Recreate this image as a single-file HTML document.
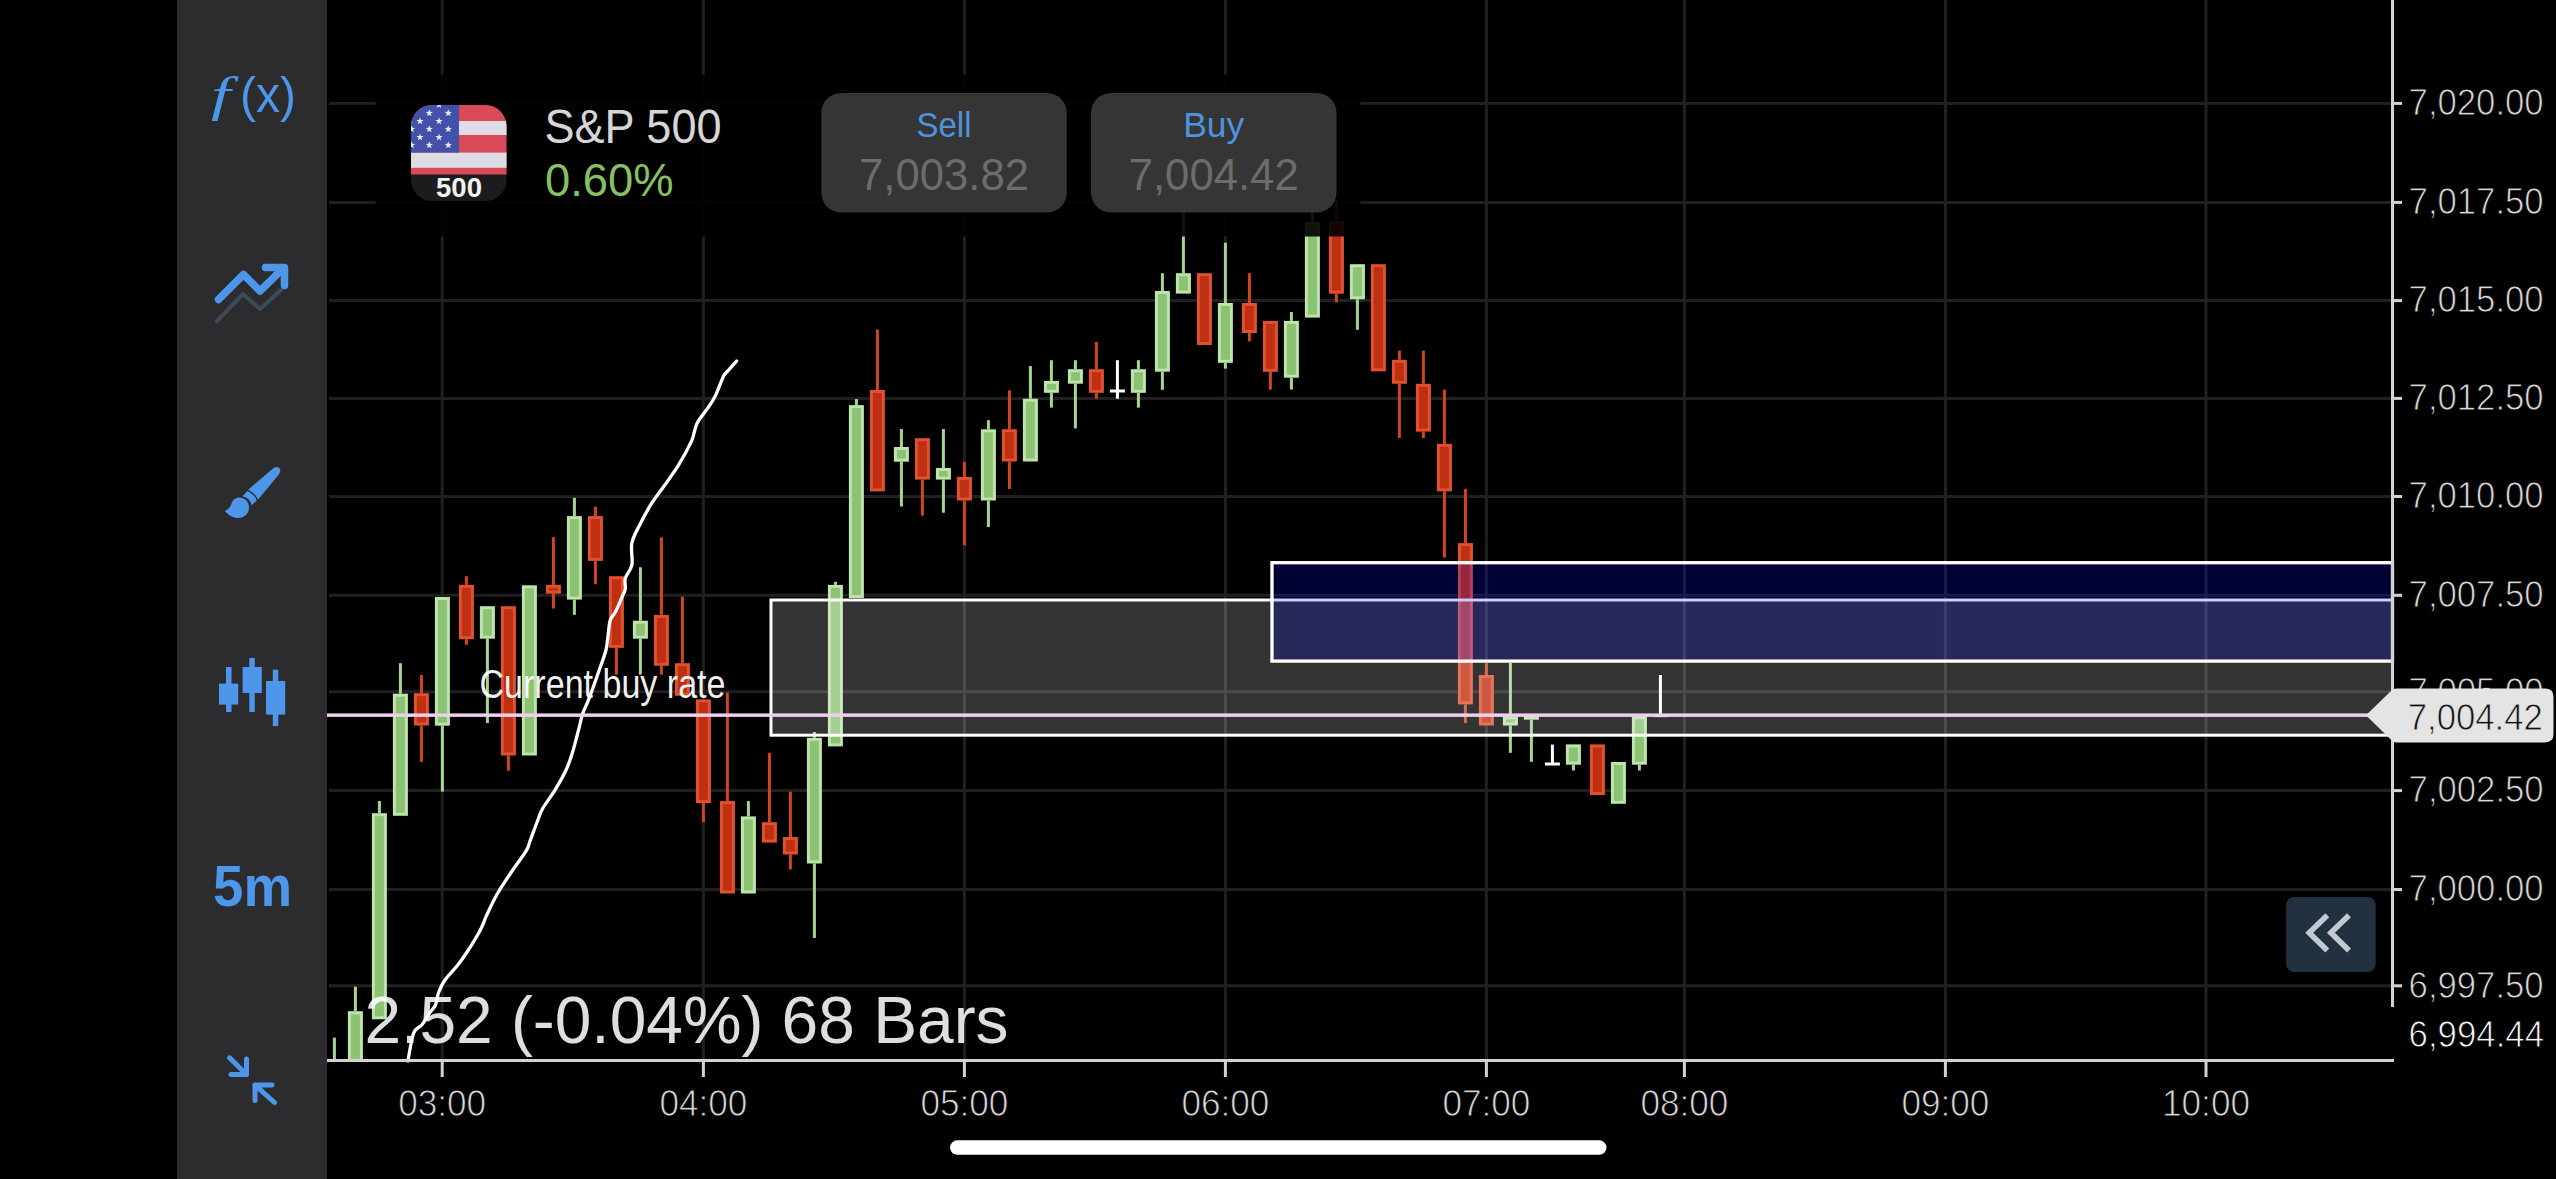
<!DOCTYPE html>
<html lang="en"><head><meta charset="utf-8"><title>S&amp;P 500 chart</title>
<style>
html,body{margin:0;padding:0;background:#000;}
body{width:2556px;height:1179px;overflow:hidden;position:relative;}
svg{position:absolute;left:0;top:0;display:block;}
text{font-family:"Liberation Sans",Arial,sans-serif;}
</style></head><body>
<svg width="2556" height="1179" viewBox="0 0 2556 1179">
<rect x="0" y="0" width="2556" height="1179" fill="#000"/>
<rect x="177" y="0" width="150" height="1179" fill="#2c2c2e"/>
<g stroke="#202020" stroke-width="3" fill="none">
<line x1="329" y1="103.4" x2="2391" y2="103.4"/>
<line x1="329" y1="202.4" x2="2391" y2="202.4"/>
<line x1="329" y1="300.6" x2="2391" y2="300.6"/>
<line x1="329" y1="398.4" x2="2391" y2="398.4"/>
<line x1="329" y1="496.5" x2="2391" y2="496.5"/>
<line x1="329" y1="595.3" x2="2391" y2="595.3"/>
<line x1="329" y1="691.8" x2="2391" y2="691.8"/>
<line x1="329" y1="790.6" x2="2391" y2="790.6"/>
<line x1="329" y1="889.5" x2="2391" y2="889.5"/>
<line x1="329" y1="985.8" x2="2391" y2="985.8"/>
<line x1="442.2" y1="0" x2="442.2" y2="1059"/>
<line x1="703.4" y1="0" x2="703.4" y2="1059"/>
<line x1="964.4" y1="0" x2="964.4" y2="1059"/>
<line x1="1225.4" y1="0" x2="1225.4" y2="1059"/>
<line x1="1486.4" y1="0" x2="1486.4" y2="1059"/>
<line x1="1684.4" y1="0" x2="1684.4" y2="1059"/>
<line x1="1945.4" y1="0" x2="1945.4" y2="1059"/>
<line x1="2206" y1="0" x2="2206" y2="1059"/>
</g>
<defs><clipPath id="ca"><rect x="327" y="0" width="2064" height="1059"/></clipPath></defs>
<g clip-path="url(#ca)">
<rect x="332.9" y="1037.6" width="3" height="24.4" fill="#a6d494"/>
<rect x="326.9" y="1062" width="15" height="1" fill="#bee4ab"/>
<rect x="353.9" y="986.7" width="3" height="24.5" fill="#a6d494"/>
<rect x="347.9" y="1011.2" width="15" height="50.8" fill="#bee4ab"/>
<rect x="350.9" y="1014.2" width="9" height="44.8" fill="#8cc274"/>
<rect x="377.9" y="801" width="3" height="12.2" fill="#a6d494"/>
<rect x="371.9" y="813.2" width="15" height="206.1" fill="#bee4ab"/>
<rect x="374.9" y="816.2" width="9" height="200.1" fill="#8cc274"/>
<rect x="398.9" y="663.2" width="3" height="30.5" fill="#a6d494"/>
<rect x="392.9" y="693.7" width="15" height="122.1" fill="#bee4ab"/>
<rect x="395.9" y="696.7" width="9" height="116.1" fill="#8cc274"/>
<rect x="419.9" y="675" width="3" height="18.2" fill="#d0451f"/>
<rect x="419.9" y="725.5" width="3" height="36.4" fill="#d0451f"/>
<rect x="413.9" y="693.2" width="15" height="32.3" fill="#e05032"/>
<rect x="416.9" y="696.2" width="9" height="26.3" fill="#bf3010"/>
<rect x="440.9" y="725.7" width="3" height="65.9" fill="#a6d494"/>
<rect x="434.9" y="597" width="15" height="128.7" fill="#bee4ab"/>
<rect x="437.9" y="600" width="9" height="122.7" fill="#8cc274"/>
<rect x="464.9" y="576.2" width="3" height="8.6" fill="#d0451f"/>
<rect x="464.9" y="639.2" width="3" height="5.6" fill="#d0451f"/>
<rect x="458.9" y="584.8" width="15" height="54.4" fill="#e05032"/>
<rect x="461.9" y="587.8" width="9" height="48.4" fill="#bf3010"/>
<rect x="485.9" y="638.7" width="3" height="84.3" fill="#a6d494"/>
<rect x="479.9" y="606.2" width="15" height="32.5" fill="#bee4ab"/>
<rect x="482.9" y="609.2" width="9" height="26.5" fill="#8cc274"/>
<rect x="506.9" y="755.5" width="3" height="15.3" fill="#d0451f"/>
<rect x="500.9" y="606.2" width="15" height="149.3" fill="#e05032"/>
<rect x="503.9" y="609.2" width="9" height="143.3" fill="#bf3010"/>
<rect x="521.9" y="585.3" width="15" height="170.2" fill="#bee4ab"/>
<rect x="524.9" y="588.3" width="9" height="164.2" fill="#8cc274"/>
<rect x="551.9" y="537.2" width="3" height="47.6" fill="#d0451f"/>
<rect x="551.9" y="593.7" width="3" height="14.8" fill="#d0451f"/>
<rect x="545.9" y="584.8" width="15" height="8.9" fill="#e05032"/>
<rect x="548.9" y="587.8" width="9" height="2.9" fill="#bf3010"/>
<rect x="572.9" y="497.8" width="3" height="18.3" fill="#a6d494"/>
<rect x="572.9" y="599.6" width="3" height="15.2" fill="#a6d494"/>
<rect x="566.9" y="516.1" width="15" height="83.5" fill="#bee4ab"/>
<rect x="569.9" y="519.1" width="9" height="77.5" fill="#8cc274"/>
<rect x="593.9" y="506.7" width="3" height="9.4" fill="#d0451f"/>
<rect x="593.9" y="560.9" width="3" height="23.4" fill="#d0451f"/>
<rect x="587.9" y="516.1" width="15" height="44.8" fill="#e05032"/>
<rect x="590.9" y="519.1" width="9" height="38.8" fill="#bf3010"/>
<rect x="614.9" y="647.9" width="3" height="26.7" fill="#d0451f"/>
<rect x="608.9" y="576.2" width="15" height="71.7" fill="#e05032"/>
<rect x="611.9" y="579.2" width="9" height="65.7" fill="#bf3010"/>
<rect x="638.9" y="567.3" width="3" height="53.4" fill="#a6d494"/>
<rect x="638.9" y="638.7" width="3" height="35.9" fill="#a6d494"/>
<rect x="632.9" y="620.7" width="15" height="18" fill="#bee4ab"/>
<rect x="635.9" y="623.7" width="9" height="12" fill="#8cc274"/>
<rect x="659.9" y="537.3" width="3" height="77.6" fill="#d0451f"/>
<rect x="659.9" y="665.8" width="3" height="8.9" fill="#d0451f"/>
<rect x="653.9" y="614.9" width="15" height="50.9" fill="#e05032"/>
<rect x="656.9" y="617.9" width="9" height="44.9" fill="#bf3010"/>
<rect x="680.9" y="596.6" width="3" height="66.6" fill="#d0451f"/>
<rect x="674.9" y="663.2" width="15" height="32.6" fill="#e05032"/>
<rect x="677.9" y="666.2" width="9" height="26.6" fill="#bf3010"/>
<rect x="701.9" y="803.2" width="3" height="19" fill="#d0451f"/>
<rect x="695.9" y="699.4" width="15" height="103.8" fill="#e05032"/>
<rect x="698.9" y="702.4" width="9" height="97.8" fill="#bf3010"/>
<rect x="725.9" y="692.5" width="3" height="108.6" fill="#d0451f"/>
<rect x="719.9" y="801.1" width="15" height="92.4" fill="#e05032"/>
<rect x="722.9" y="804.1" width="9" height="86.4" fill="#bf3010"/>
<rect x="746.9" y="801.1" width="3" height="15.3" fill="#a6d494"/>
<rect x="740.9" y="816.4" width="15" height="77.1" fill="#bee4ab"/>
<rect x="743.9" y="819.4" width="9" height="71.1" fill="#8cc274"/>
<rect x="767.9" y="752.8" width="3" height="69.4" fill="#d0451f"/>
<rect x="761.9" y="822.2" width="15" height="20.4" fill="#e05032"/>
<rect x="764.9" y="825.2" width="9" height="14.4" fill="#bf3010"/>
<rect x="788.9" y="791.7" width="3" height="45.3" fill="#d0451f"/>
<rect x="788.9" y="854.5" width="3" height="14.8" fill="#d0451f"/>
<rect x="782.9" y="837" width="15" height="17.5" fill="#e05032"/>
<rect x="785.9" y="840" width="9" height="11.5" fill="#bf3010"/>
<rect x="812.9" y="732" width="3" height="5.8" fill="#a6d494"/>
<rect x="812.9" y="863.5" width="3" height="74.5" fill="#a6d494"/>
<rect x="806.9" y="737.8" width="15" height="125.7" fill="#bee4ab"/>
<rect x="809.9" y="740.8" width="9" height="119.7" fill="#8cc274"/>
<rect x="833.9" y="581.8" width="3" height="3.1" fill="#a6d494"/>
<rect x="827.9" y="584.9" width="15" height="161.5" fill="#bee4ab"/>
<rect x="830.9" y="587.9" width="9" height="155.5" fill="#8cc274"/>
<rect x="854.9" y="399" width="3" height="6.1" fill="#a6d494"/>
<rect x="848.9" y="405.1" width="15" height="192.9" fill="#bee4ab"/>
<rect x="851.9" y="408.1" width="9" height="186.9" fill="#8cc274"/>
<rect x="875.9" y="329.5" width="3" height="60.5" fill="#d0451f"/>
<rect x="869.9" y="390" width="15" height="101.4" fill="#e05032"/>
<rect x="872.9" y="393" width="9" height="95.4" fill="#bf3010"/>
<rect x="899.9" y="429.1" width="3" height="17.9" fill="#a6d494"/>
<rect x="899.9" y="461.7" width="3" height="44.8" fill="#a6d494"/>
<rect x="893.9" y="447" width="15" height="14.7" fill="#bee4ab"/>
<rect x="896.9" y="450" width="9" height="8.7" fill="#8cc274"/>
<rect x="920.9" y="479.6" width="3" height="36" fill="#d0451f"/>
<rect x="914.9" y="438.2" width="15" height="41.4" fill="#e05032"/>
<rect x="917.9" y="441.2" width="9" height="35.4" fill="#bf3010"/>
<rect x="941.9" y="429.1" width="3" height="38.9" fill="#a6d494"/>
<rect x="941.9" y="479.6" width="3" height="33.1" fill="#a6d494"/>
<rect x="935.9" y="468" width="15" height="11.6" fill="#bee4ab"/>
<rect x="938.9" y="471" width="9" height="5.6" fill="#8cc274"/>
<rect x="962.9" y="462" width="3" height="14.9" fill="#d0451f"/>
<rect x="962.9" y="500.5" width="3" height="44.7" fill="#d0451f"/>
<rect x="956.9" y="476.9" width="15" height="23.6" fill="#e05032"/>
<rect x="959.9" y="479.9" width="9" height="17.6" fill="#bf3010"/>
<rect x="986.9" y="420.2" width="3" height="9.1" fill="#a6d494"/>
<rect x="986.9" y="500.5" width="3" height="26.5" fill="#a6d494"/>
<rect x="980.9" y="429.3" width="15" height="71.2" fill="#bee4ab"/>
<rect x="983.9" y="432.3" width="9" height="65.2" fill="#8cc274"/>
<rect x="1007.9" y="390.3" width="3" height="38.9" fill="#d0451f"/>
<rect x="1007.9" y="461.5" width="3" height="27.5" fill="#d0451f"/>
<rect x="1001.9" y="429.2" width="15" height="32.3" fill="#e05032"/>
<rect x="1004.9" y="432.2" width="9" height="26.3" fill="#bf3010"/>
<rect x="1028.9" y="366.1" width="3" height="32.6" fill="#a6d494"/>
<rect x="1022.9" y="398.7" width="15" height="62.8" fill="#bee4ab"/>
<rect x="1025.9" y="401.7" width="9" height="56.8" fill="#8cc274"/>
<rect x="1049.9" y="360.2" width="3" height="20.7" fill="#a6d494"/>
<rect x="1049.9" y="392.8" width="3" height="14.8" fill="#a6d494"/>
<rect x="1043.9" y="380.9" width="15" height="11.9" fill="#bee4ab"/>
<rect x="1046.9" y="383.9" width="9" height="5.9" fill="#8cc274"/>
<rect x="1073.9" y="360.2" width="3" height="9" fill="#a6d494"/>
<rect x="1073.9" y="383.7" width="3" height="44.7" fill="#a6d494"/>
<rect x="1067.9" y="369.2" width="15" height="14.5" fill="#bee4ab"/>
<rect x="1070.9" y="372.2" width="9" height="8.5" fill="#8cc274"/>
<rect x="1094.9" y="341.9" width="3" height="27.3" fill="#d0451f"/>
<rect x="1094.9" y="392.8" width="3" height="5.9" fill="#d0451f"/>
<rect x="1088.9" y="369.2" width="15" height="23.6" fill="#e05032"/>
<rect x="1091.9" y="372.2" width="9" height="17.6" fill="#bf3010"/>
<rect x="1115.9" y="360.2" width="3" height="38.5" fill="#fff"/>
<rect x="1109.9" y="389.5" width="15" height="3" fill="#fff"/>
<rect x="1136.9" y="360.2" width="3" height="9" fill="#a6d494"/>
<rect x="1136.9" y="392.8" width="3" height="14.8" fill="#a6d494"/>
<rect x="1130.9" y="369.2" width="15" height="23.6" fill="#bee4ab"/>
<rect x="1133.9" y="372.2" width="9" height="17.6" fill="#8cc274"/>
<rect x="1160.9" y="273.2" width="3" height="17.8" fill="#a6d494"/>
<rect x="1160.9" y="371.7" width="3" height="18.1" fill="#a6d494"/>
<rect x="1154.9" y="291" width="15" height="80.7" fill="#bee4ab"/>
<rect x="1157.9" y="294" width="9" height="74.7" fill="#8cc274"/>
<rect x="1181.9" y="208" width="3" height="65.2" fill="#a6d494"/>
<rect x="1175.9" y="273.2" width="15" height="20.4" fill="#bee4ab"/>
<rect x="1178.9" y="276.2" width="9" height="14.4" fill="#8cc274"/>
<rect x="1196.9" y="273.2" width="15" height="71.8" fill="#e05032"/>
<rect x="1199.9" y="276.2" width="9" height="65.8" fill="#bf3010"/>
<rect x="1223.9" y="242.7" width="3" height="60.3" fill="#a6d494"/>
<rect x="1223.9" y="362.8" width="3" height="5.8" fill="#a6d494"/>
<rect x="1217.9" y="303" width="15" height="59.8" fill="#bee4ab"/>
<rect x="1220.9" y="306" width="9" height="53.8" fill="#8cc274"/>
<rect x="1247.9" y="273.2" width="3" height="29.8" fill="#d0451f"/>
<rect x="1247.9" y="333" width="3" height="8.4" fill="#d0451f"/>
<rect x="1241.9" y="303" width="15" height="30" fill="#e05032"/>
<rect x="1244.9" y="306" width="9" height="24" fill="#bf3010"/>
<rect x="1268.9" y="371.8" width="3" height="17.8" fill="#d0451f"/>
<rect x="1262.9" y="320.9" width="15" height="50.9" fill="#e05032"/>
<rect x="1265.9" y="323.9" width="9" height="44.9" fill="#bf3010"/>
<rect x="1289.9" y="312" width="3" height="8.9" fill="#a6d494"/>
<rect x="1289.9" y="377.7" width="3" height="11.9" fill="#a6d494"/>
<rect x="1283.9" y="320.9" width="15" height="56.8" fill="#bee4ab"/>
<rect x="1286.9" y="323.9" width="9" height="50.8" fill="#8cc274"/>
<rect x="1310.9" y="204" width="3" height="18" fill="#a6d494"/>
<rect x="1304.9" y="222" width="15" height="95.6" fill="#bee4ab"/>
<rect x="1307.9" y="225" width="9" height="89.6" fill="#8cc274"/>
<rect x="1334.9" y="200" width="3" height="21" fill="#d0451f"/>
<rect x="1334.9" y="293.7" width="3" height="8.7" fill="#d0451f"/>
<rect x="1328.9" y="221" width="15" height="72.7" fill="#e05032"/>
<rect x="1331.9" y="224" width="9" height="66.7" fill="#bf3010"/>
<rect x="1355.9" y="299.3" width="3" height="30.5" fill="#a6d494"/>
<rect x="1349.9" y="264.2" width="15" height="35.1" fill="#bee4ab"/>
<rect x="1352.9" y="267.2" width="9" height="29.1" fill="#8cc274"/>
<rect x="1370.9" y="264.2" width="15" height="107.1" fill="#e05032"/>
<rect x="1373.9" y="267.2" width="9" height="101.1" fill="#bf3010"/>
<rect x="1397.9" y="350.7" width="3" height="9.1" fill="#d0451f"/>
<rect x="1397.9" y="383.8" width="3" height="54.2" fill="#d0451f"/>
<rect x="1391.9" y="359.8" width="15" height="24" fill="#e05032"/>
<rect x="1394.9" y="362.8" width="9" height="18" fill="#bf3010"/>
<rect x="1421.9" y="350.7" width="3" height="33.1" fill="#d0451f"/>
<rect x="1421.9" y="431.6" width="3" height="6.4" fill="#d0451f"/>
<rect x="1415.9" y="383.8" width="15" height="47.8" fill="#e05032"/>
<rect x="1418.9" y="386.8" width="9" height="41.8" fill="#bf3010"/>
<rect x="1442.9" y="389.6" width="3" height="54.2" fill="#d0451f"/>
<rect x="1442.9" y="491.4" width="3" height="66.2" fill="#d0451f"/>
<rect x="1436.9" y="443.8" width="15" height="47.6" fill="#e05032"/>
<rect x="1439.9" y="446.8" width="9" height="41.6" fill="#bf3010"/>
<rect x="1463.9" y="488.9" width="3" height="54.2" fill="#d0451f"/>
<rect x="1463.9" y="704.4" width="3" height="18.6" fill="#d0451f"/>
<rect x="1457.9" y="543.1" width="15" height="161.3" fill="#e05032"/>
<rect x="1460.9" y="546.1" width="9" height="155.3" fill="#bf3010"/>
<rect x="1484.9" y="663.2" width="3" height="11.8" fill="#d0451f"/>
<rect x="1478.9" y="675" width="15" height="50.5" fill="#e05032"/>
<rect x="1481.9" y="678" width="9" height="44.5" fill="#bf3010"/>
<rect x="1508.9" y="663" width="3" height="53.4" fill="#a6d494"/>
<rect x="1508.9" y="725.5" width="3" height="27.3" fill="#a6d494"/>
<rect x="1502.9" y="716.4" width="15" height="9.1" fill="#bee4ab"/>
<rect x="1505.9" y="719.4" width="9" height="3.1" fill="#8cc274"/>
<rect x="1529.9" y="719.7" width="3" height="42.1" fill="#a6d494"/>
<rect x="1523.9" y="714.5" width="15" height="5.2" fill="#bee4ab"/>
<rect x="1550.9" y="744.6" width="3" height="19.4" fill="#fff"/>
<rect x="1544.9" y="762.5" width="15" height="3" fill="#fff"/>
<rect x="1571.9" y="764.7" width="3" height="5.8" fill="#a6d494"/>
<rect x="1565.9" y="744.4" width="15" height="20.3" fill="#bee4ab"/>
<rect x="1568.9" y="747.4" width="9" height="14.3" fill="#8cc274"/>
<rect x="1589.9" y="744.4" width="15" height="50.6" fill="#e05032"/>
<rect x="1592.9" y="747.4" width="9" height="44.6" fill="#bf3010"/>
<rect x="1610.9" y="762" width="15" height="41.8" fill="#bee4ab"/>
<rect x="1613.9" y="765" width="9" height="35.8" fill="#8cc274"/>
<rect x="1637.9" y="764.7" width="3" height="5.8" fill="#a6d494"/>
<rect x="1631.9" y="716.3" width="15" height="48.4" fill="#bee4ab"/>
<rect x="1634.9" y="719.3" width="9" height="42.4" fill="#8cc274"/>
<rect x="1658.9" y="675" width="3" height="40.6" fill="#fff"/>
<rect x="1652.9" y="714.1" width="15" height="3" fill="#fff"/>
</g>
<path d="M407.9 1061 C408.87 1056.33 411.35 1039.05 413.7 1033 C416.05 1026.95 419.4 1027.98 422 1024.7 C424.6 1021.42 427.05 1016.58 429.3 1013.3 C431.55 1010.02 433.95 1008.47 435.5 1005 C437.05 1001.53 437.03 996.67 438.6 992.5 C440.17 988.33 441.77 984.5 444.9 980 C448.03 975.5 453.6 970.33 457.4 965.5 C461.2 960.67 463.9 956.88 467.7 951 C471.5 945.12 477.07 936.1 480.2 930.2 C483.33 924.3 483.73 921.5 486.5 915.6 C489.27 909.7 492.65 902.07 496.8 894.8 C500.95 887.53 506.53 879.27 511.4 872 C516.27 864.73 522.88 856.4 526 851.2 C529.12 846 528.18 845.83 530.1 840.8 C532.02 835.77 535.45 826.3 537.5 821 C539.55 815.7 539.47 814.18 542.4 809 C545.33 803.82 551.22 796.27 555.1 789.9 C558.98 783.53 562.87 776.82 565.7 770.8 C568.53 764.78 569.98 760.52 572.1 753.8 C574.22 747.08 576.63 737.2 578.4 730.5 C580.17 723.8 580.93 718.9 582.7 713.6 C584.47 708.3 586.18 706.13 589 698.7 C591.82 691.27 596.77 677.12 599.6 669 C602.43 660.88 604.58 655.65 606 650 C607.42 644.35 607.4 640.05 608.1 635.1 C608.8 630.15 608.97 624.18 610.2 620.3 C611.43 616.42 613.53 615.68 615.5 611.8 C617.47 607.92 620.37 600.8 622 597 C623.63 593.2 624.75 592.15 625.3 589 C625.85 585.85 624.2 582.12 625.3 578.1 C626.4 574.08 630.8 570.77 631.9 564.9 C633 559.03 630.43 549.88 631.9 542.9 C633.37 535.92 637.4 529.62 640.7 523 C644 516.38 648.02 509.08 651.7 503.2 C655.38 497.32 658.38 493.95 662.8 487.7 C667.22 481.45 673.43 473.42 678.2 465.7 C682.97 457.98 688.65 447.28 691.4 441.4 C694.15 435.52 693.6 433.7 694.7 430.4 C695.8 427.1 695.6 425.63 698 421.6 C700.4 417.57 706.15 410.62 709.1 406.2 C712.05 401.78 713.32 400.07 715.7 395.1 C718.08 390.13 721.38 380.43 723.4 376.4 C725.42 372.37 725.6 373.47 727.8 370.9 C730 368.33 735.13 362.65 736.6 361" fill="none" stroke="#fff" stroke-width="3.3" stroke-linecap="round" stroke-linejoin="round"/>
<rect x="771" y="600" width="1621.5" height="135.2" fill="rgba(255,255,255,0.2)" stroke="#fff" stroke-width="3"/>
<rect x="1272" y="562.7" width="1120.5" height="98.4" fill="rgba(0,0,255,0.2)" stroke="#fff" stroke-width="3.3"/>
<rect x="327" y="713.4" width="2066" height="3.5" fill="#eed0ee"/>
<text x="479.5" y="697.6" font-size="40.7" fill="#fff" fill-opacity="0.95" textLength="246" lengthAdjust="spacingAndGlyphs">Current buy rate</text>
<rect x="327" y="1059" width="2067" height="3" fill="#d2d2d2"/>
<rect x="440.7" y="1060" width="3" height="17" fill="#d2d2d2"/>
<text x="442.2" y="1115.8" font-size="36.6" fill="#d8d8d8" stroke="#000" stroke-width="0.9" text-anchor="middle" textLength="88" lengthAdjust="spacingAndGlyphs">03:00</text>
<rect x="701.9" y="1060" width="3" height="17" fill="#d2d2d2"/>
<text x="703.4" y="1115.8" font-size="36.6" fill="#d8d8d8" stroke="#000" stroke-width="0.9" text-anchor="middle" textLength="88" lengthAdjust="spacingAndGlyphs">04:00</text>
<rect x="962.9" y="1060" width="3" height="17" fill="#d2d2d2"/>
<text x="964.4" y="1115.8" font-size="36.6" fill="#d8d8d8" stroke="#000" stroke-width="0.9" text-anchor="middle" textLength="88" lengthAdjust="spacingAndGlyphs">05:00</text>
<rect x="1223.9" y="1060" width="3" height="17" fill="#d2d2d2"/>
<text x="1225.4" y="1115.8" font-size="36.6" fill="#d8d8d8" stroke="#000" stroke-width="0.9" text-anchor="middle" textLength="88" lengthAdjust="spacingAndGlyphs">06:00</text>
<rect x="1484.9" y="1060" width="3" height="17" fill="#d2d2d2"/>
<text x="1486.4" y="1115.8" font-size="36.6" fill="#d8d8d8" stroke="#000" stroke-width="0.9" text-anchor="middle" textLength="88" lengthAdjust="spacingAndGlyphs">07:00</text>
<rect x="1682.9" y="1060" width="3" height="17" fill="#d2d2d2"/>
<text x="1684.4" y="1115.8" font-size="36.6" fill="#d8d8d8" stroke="#000" stroke-width="0.9" text-anchor="middle" textLength="88" lengthAdjust="spacingAndGlyphs">08:00</text>
<rect x="1943.9" y="1060" width="3" height="17" fill="#d2d2d2"/>
<text x="1945.4" y="1115.8" font-size="36.6" fill="#d8d8d8" stroke="#000" stroke-width="0.9" text-anchor="middle" textLength="88" lengthAdjust="spacingAndGlyphs">09:00</text>
<rect x="2204.5" y="1060" width="3" height="17" fill="#d2d2d2"/>
<text x="2206" y="1115.8" font-size="36.6" fill="#d8d8d8" stroke="#000" stroke-width="0.9" text-anchor="middle" textLength="88" lengthAdjust="spacingAndGlyphs">10:00</text>
<rect x="2391" y="0" width="3" height="1007" fill="#d2d2d2"/>
<rect x="2393" y="101.9" width="9" height="3" fill="#d2d2d2"/>
<text x="2408.6" y="115.2" font-size="37" fill="#d8d8d8" stroke="#000" stroke-width="0.9" textLength="135" lengthAdjust="spacingAndGlyphs">7,020.00</text>
<rect x="2393" y="200.9" width="9" height="3" fill="#d2d2d2"/>
<text x="2408.6" y="214.2" font-size="37" fill="#d8d8d8" stroke="#000" stroke-width="0.9" textLength="135" lengthAdjust="spacingAndGlyphs">7,017.50</text>
<rect x="2393" y="299.1" width="9" height="3" fill="#d2d2d2"/>
<text x="2408.6" y="312.4" font-size="37" fill="#d8d8d8" stroke="#000" stroke-width="0.9" textLength="135" lengthAdjust="spacingAndGlyphs">7,015.00</text>
<rect x="2393" y="396.9" width="9" height="3" fill="#d2d2d2"/>
<text x="2408.6" y="410.2" font-size="37" fill="#d8d8d8" stroke="#000" stroke-width="0.9" textLength="135" lengthAdjust="spacingAndGlyphs">7,012.50</text>
<rect x="2393" y="495" width="9" height="3" fill="#d2d2d2"/>
<text x="2408.6" y="508.3" font-size="37" fill="#d8d8d8" stroke="#000" stroke-width="0.9" textLength="135" lengthAdjust="spacingAndGlyphs">7,010.00</text>
<rect x="2393" y="593.8" width="9" height="3" fill="#d2d2d2"/>
<text x="2408.6" y="607.1" font-size="37" fill="#d8d8d8" stroke="#000" stroke-width="0.9" textLength="135" lengthAdjust="spacingAndGlyphs">7,007.50</text>
<rect x="2393" y="690.3" width="9" height="3" fill="#d2d2d2"/>
<text x="2408.6" y="703.6" font-size="37" fill="#d8d8d8" stroke="#000" stroke-width="0.9" textLength="135" lengthAdjust="spacingAndGlyphs">7,005.00</text>
<rect x="2393" y="789.1" width="9" height="3" fill="#d2d2d2"/>
<text x="2408.6" y="802.4" font-size="37" fill="#d8d8d8" stroke="#000" stroke-width="0.9" textLength="135" lengthAdjust="spacingAndGlyphs">7,002.50</text>
<rect x="2393" y="888" width="9" height="3" fill="#d2d2d2"/>
<text x="2408.6" y="901.3" font-size="37" fill="#d8d8d8" stroke="#000" stroke-width="0.9" textLength="135" lengthAdjust="spacingAndGlyphs">7,000.00</text>
<rect x="2393" y="984.3" width="9" height="3" fill="#d2d2d2"/>
<text x="2408.6" y="997.6" font-size="37" fill="#d8d8d8" stroke="#000" stroke-width="0.9" textLength="135" lengthAdjust="spacingAndGlyphs">6,997.50</text>
<text x="2408.6" y="1046.8" font-size="37" fill="#f8f8f8" stroke="#000" stroke-width="0.9" textLength="135.5" lengthAdjust="spacingAndGlyphs">6,994.44</text>
<path d="M2366 715.3 L2391.5 690.6 Q2393.5 688.6 2396.5 688.6 L2545 688.6 Q2553.5 688.6 2553.5 697 L2553.5 734 Q2553.5 742.4 2545 742.4 L2396.5 742.4 Q2393.5 742.4 2391.5 740.2 Z" fill="#e4e4e4"/>
<text x="2407.8" y="730.2" font-size="37" fill="#111" stroke="#e4e4e4" stroke-width="0.8" textLength="135" lengthAdjust="spacingAndGlyphs">7,004.42</text>
<rect x="2286.2" y="897" width="89.5" height="75" rx="8" fill="#213140"/>
<path d="M2327.3 915.2 L2309.2 932.8 L2327.3 950.6 M2349 915.2 L2330.9 932.8 L2349 950.6" fill="none" stroke="#c3cacf" stroke-width="5.6" stroke-linecap="butt" stroke-linejoin="miter"/>
<text x="364.5" y="1043" font-size="66.5" fill="#fff" fill-opacity="0.87" textLength="644" lengthAdjust="spacingAndGlyphs">2.52 (-0.04%) 68 Bars</text>
<rect x="375.5" y="74.5" width="985" height="162" fill="rgba(0,0,0,0.9)"/>
<defs><clipPath id="fc"><rect x="411" y="105" width="95.5" height="96" rx="21"/></clipPath></defs>
<g clip-path="url(#fc)">
<rect x="411" y="105" width="96" height="96" fill="#1c1c1e"/>
<rect x="411" y="105" width="96" height="69.5" fill="#d94a58"/>
<rect x="411" y="121" width="96" height="14" fill="#dcdce2"/>
<rect x="411" y="152.6" width="96" height="15.2" fill="#dcdce2"/>
<rect x="411" y="105" width="48" height="47.6" fill="#4451a9"/>
<polygon points="429.3,109.2 430.21,111.85 433.01,111.89 430.77,113.58 431.59,116.26 429.3,114.65 427.01,116.26 427.83,113.58 425.59,111.89 428.39,111.85" fill="#e8e8f4"/>
<polygon points="448.3,109.2 449.21,111.85 452.01,111.89 449.77,113.58 450.59,116.26 448.3,114.65 446.01,116.26 446.83,113.58 444.59,111.89 447.39,111.85" fill="#e8e8f4"/>
<polygon points="439,100.9 439.91,103.55 442.71,103.59 440.47,105.28 441.29,107.96 439,106.35 436.71,107.96 437.53,105.28 435.29,103.59 438.09,103.55" fill="#e8e8f4"/>
<polygon points="420,117.3 420.91,119.95 423.71,119.99 421.47,121.68 422.29,124.36 420,122.75 417.71,124.36 418.53,121.68 416.29,119.99 419.09,119.95" fill="#e8e8f4"/>
<polygon points="439,117.3 439.91,119.95 442.71,119.99 440.47,121.68 441.29,124.36 439,122.75 436.71,124.36 437.53,121.68 435.29,119.99 438.09,119.95" fill="#e8e8f4"/>
<polygon points="411.6,125.2 412.51,127.85 415.31,127.89 413.07,129.58 413.89,132.26 411.6,130.65 409.31,132.26 410.13,129.58 407.89,127.89 410.69,127.85" fill="#e8e8f4"/>
<polygon points="429.3,125.2 430.21,127.85 433.01,127.89 430.77,129.58 431.59,132.26 429.3,130.65 427.01,132.26 427.83,129.58 425.59,127.89 428.39,127.85" fill="#e8e8f4"/>
<polygon points="448.3,125.2 449.21,127.85 452.01,127.89 449.77,129.58 450.59,132.26 448.3,130.65 446.01,132.26 446.83,129.58 444.59,127.89 447.39,127.85" fill="#e8e8f4"/>
<polygon points="420,133.4 420.91,136.05 423.71,136.09 421.47,137.78 422.29,140.46 420,138.85 417.71,140.46 418.53,137.78 416.29,136.09 419.09,136.05" fill="#e8e8f4"/>
<polygon points="439,133.4 439.91,136.05 442.71,136.09 440.47,137.78 441.29,140.46 439,138.85 436.71,140.46 437.53,137.78 435.29,136.09 438.09,136.05" fill="#e8e8f4"/>
<polygon points="411.6,141.2 412.51,143.85 415.31,143.89 413.07,145.58 413.89,148.26 411.6,146.65 409.31,148.26 410.13,145.58 407.89,143.89 410.69,143.85" fill="#e8e8f4"/>
<polygon points="429.3,141.2 430.21,143.85 433.01,143.89 430.77,145.58 431.59,148.26 429.3,146.65 427.01,148.26 427.83,145.58 425.59,143.89 428.39,143.85" fill="#e8e8f4"/>
<polygon points="448.3,141.2 449.21,143.85 452.01,143.89 449.77,145.58 450.59,148.26 448.3,146.65 446.01,148.26 446.83,145.58 444.59,143.89 447.39,143.85" fill="#e8e8f4"/>
</g>
<text x="459" y="196.5" font-size="26.8" font-weight="bold" fill="#f2f2f2" text-anchor="middle" textLength="46" lengthAdjust="spacingAndGlyphs">500</text>
<text x="544.5" y="142.8" font-size="48" fill="#d6d6d6" textLength="177" lengthAdjust="spacingAndGlyphs">S&amp;P 500</text>
<text x="545" y="196.4" font-size="46.8" fill="#86c062" textLength="128.5" lengthAdjust="spacingAndGlyphs">0.60%</text>
<rect x="821.3" y="93" width="245.5" height="119.5" rx="20" fill="rgba(58,58,58,0.92)"/>
<text x="944" y="137.4" font-size="34.5" fill="#4f92dd" text-anchor="middle" textLength="55" lengthAdjust="spacingAndGlyphs">Sell</text>
<text x="944" y="190.2" font-size="44" fill="#6c6c6c" text-anchor="middle" textLength="170" lengthAdjust="spacingAndGlyphs">7,003.82</text>
<rect x="1091" y="93" width="245.5" height="119.5" rx="20" fill="rgba(58,58,58,0.92)"/>
<text x="1213.7" y="137.4" font-size="34.5" fill="#4f92dd" text-anchor="middle" textLength="61" lengthAdjust="spacingAndGlyphs">Buy</text>
<text x="1213.7" y="190.2" font-size="44" fill="#6c6c6c" text-anchor="middle" textLength="170" lengthAdjust="spacingAndGlyphs">7,004.42</text>
<text x="211" y="111" font-size="48" fill="#4e96e9" font-style="italic" style="font-family:'Liberation Serif',serif" textLength="19.5" lengthAdjust="spacingAndGlyphs">f</text>
<text x="240" y="112" font-size="50" fill="#4e96e9" textLength="56" lengthAdjust="spacingAndGlyphs">(x)</text>
<polyline points="217,321 243,294 260,309 281,290" fill="none" stroke="#3c4a5a" stroke-width="4" stroke-linecap="round" stroke-linejoin="round"/>
<polyline points="218.5,299.5 243.5,274.5 260,291 283,268.5" fill="none" stroke="#4e96e9" stroke-width="7.5" stroke-linecap="round" stroke-linejoin="round"/>
<polyline points="265.5,267.5 284.5,267.5 284.5,285.5" fill="none" stroke="#4e96e9" stroke-width="7.5" stroke-linecap="round" stroke-linejoin="round"/>
<g fill="#4e96e9">
<path d="M224.9 511 C227.5 509.5 230.3 507.5 231.2 504.5 C232.4 500.2 235.6 497.6 239.5 497.6 C244.6 497.6 249 501.8 249 507.5 C249 513.5 244.4 518 238.5 518 C233.5 518 228.5 515.6 224.9 511 Z"/>
<g transform="translate(240 508) rotate(-45.5)">
<path d="M10.09 -6.5 L17.32 -6.5 A18.5 18.5 0 0 1 17.32 6.5 L10.09 6.5 A12 12 0 0 0 10.09 -6.5 Z"/>
<path d="M18.73 -7 L50.5 -4.2 C53.5 -4 56 -2.5 56 0 C56 2.5 53.5 4 50.5 4.2 L18.73 7 A20 20 0 0 0 18.73 -7 Z"/>
</g>
</g>
<g fill="#4e96e9">
<rect x="226" y="667" width="5.5" height="45"/><rect x="219" y="683.6" width="19.2" height="21"/>
<rect x="249.3" y="658" width="5.5" height="54"/><rect x="242.6" y="667" width="19.2" height="26"/>
<rect x="272.8" y="669.6" width="5.5" height="56.5"/><rect x="266" y="681" width="19.2" height="33.6"/>
</g>
<text x="213" y="906.2" font-size="56.5" font-weight="bold" fill="#4e96e9" textLength="79" lengthAdjust="spacingAndGlyphs">5m</text>
<g fill="none" stroke="#4e96e9" stroke-width="5" stroke-linecap="round" stroke-linejoin="round">
<path d="M229.5 1057.8 L246.5 1074.5 M231 1074.5 L246.5 1074.5 L246.5 1059"/>
<path d="M274.5 1102.5 L255 1085 M255 1085 L272 1085 M255 1085 L255 1100.5"/>
</g>
<rect x="950" y="1140.3" width="656.5" height="14.5" rx="7.25" fill="#fff"/>
</svg>
</body></html>
